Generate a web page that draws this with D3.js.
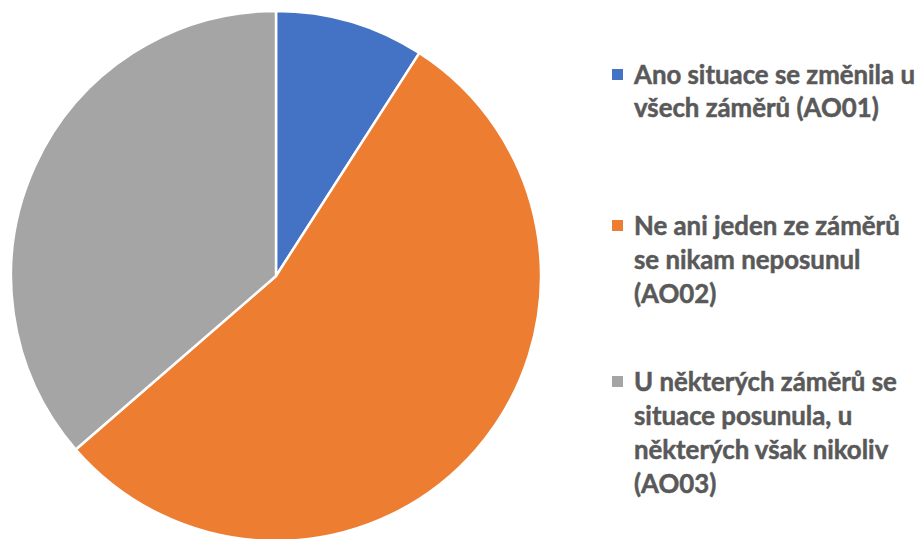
<!DOCTYPE html>
<html>
<head>
<meta charset="utf-8">
<script src="https://cdn.jsdelivr.net/npm/d3@7/dist/d3.min.js"></script>
<style>
  html, body { margin: 0; padding: 0; background: #fff; }
  svg { display: block; }
</style>
</head>
<body>
<svg id="chart" width="922" height="539"></svg>
<script>
const categories = ["AO01", "AO02", "AO03"];
const values = [3, 18, 12];
const legendLines = [
  ["Ano situace se změnila u", "všech záměrů (AO01)"],
  ["Ne ani jeden ze záměrů", "se nikam neposunul", "(AO02)"],
  ["U některých záměrů se", "situace posunula, u", "některých však nikoliv", "(AO03)"]
];
const colors = ["#4472C4", "#ED7D31", "#A5A5A5"];

const svg = d3.select("#chart");
const cx = 276, cy = 276, r = 265;

const pie = d3.pie().sort(null).value(d => d).startAngle(0).endAngle(2 * Math.PI);
const arc = d3.arc().innerRadius(0).outerRadius(r);
const color = d3.scaleOrdinal().domain(categories).range(colors);

const g = svg.append("g").attr("transform", `translate(${cx},${cy})`);
g.selectAll("path")
  .data(pie(values))
  .join("path")
  .attr("d", arc)
  .attr("fill", (d, i) => color(categories[i]))
  .attr("stroke", "#fff")
  .attr("stroke-width", 2.5)
  .attr("stroke-linejoin", "round");

const legendTop = [84, 235, 391];
const lineH = [33, 34, 34];
const fontSize = 25.8;
const lg = svg.append("g").attr("class", "legend");
legendLines.forEach((lines, i) => {
  const item = lg.append("g");
  item.append("rect")
    .attr("x", 612).attr("y", legendTop[i] - 15)
    .attr("width", 11).attr("height", 11)
    .attr("fill", color(categories[i]));
  const t = item.append("text")
    .attr("x", 634).attr("y", legendTop[i])
    .attr("font-family", "Lato, 'Open Sans', sans-serif")
    .attr("font-weight", "bold")
    .attr("font-size", fontSize)
    .attr("fill", "#595959")
    .attr("stroke", "#595959")
    .attr("stroke-width", 0.5);
  lines.forEach((ln, j) => {
    t.append("tspan").attr("x", 634).attr("y", legendTop[i] + j * lineH[i]).text(ln);
  });
});
</script>
</body>
</html>
